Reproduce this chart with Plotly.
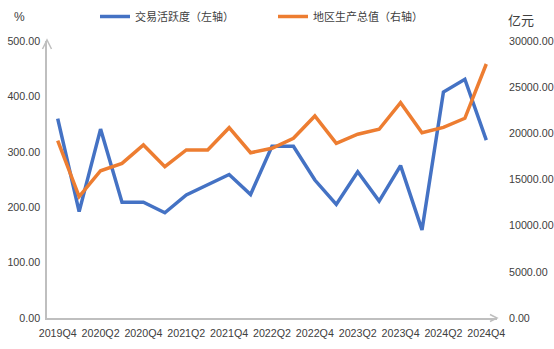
import plotly.graph_objects as go

quarters = ["2019Q4", "2020Q1", "2020Q2", "2020Q3", "2020Q4", "2021Q1", "2021Q2", "2021Q3",
            "2021Q4", "2022Q1", "2022Q2", "2022Q3", "2022Q4", "2023Q1", "2023Q2", "2023Q3",
            "2023Q4", "2024Q1", "2024Q2", "2024Q3", "2024Q4"]
activity = [360, 192, 341, 209, 209, 190, 222, 240, 259, 223, 310, 310, 249, 205, 264, 211,
            275, 159, 408, 431, 321]
gdp = [19200, 13140, 15950, 16750, 18740, 16390, 18200, 18200, 20610, 17900, 18380, 19460,
       21880, 18920, 19900, 20440, 23320, 20070, 20650, 21630, 27510]
tick_labels = quarters[::2]

FONT = "Liberation Sans, Arial, Noto Sans CJK SC, sans-serif"
AX = "#BFBFBF"
FS = 10.7

fig = go.Figure()
fig.add_trace(go.Scatter(x=quarters, y=activity, name="交易活跃度（左轴）", mode="lines",
                         line=dict(color="#4472C4", width=3.5), yaxis="y"))
fig.add_trace(go.Scatter(x=quarters, y=gdp, name="地区生产总值（右轴）", mode="lines",
                         line=dict(color="#ED7D31", width=3.5), yaxis="y2"))

W, H = 450, 277
fig.update_layout(
    width=554, height=349,
    margin=dict(l=47, r=57, t=41, b=31, autoexpand=False),
    paper_bgcolor="white", plot_bgcolor="white",
    font=dict(family=FONT, size=FS, color="#404040"),
    showlegend=True,
    legend=dict(orientation="h", x=(95 - 47) / W, xanchor="left", y=1 + 39 / H, yanchor="top",
                entrywidth=133, entrywidthmode="pixels", itemwidth=30,
                font=dict(size=11, color="#404040"), bgcolor="rgba(0,0,0,0)"),
    xaxis=dict(type="category", categoryorder="array", categoryarray=quarters,
               range=[-0.5, 20.5], tickmode="array", tickvals=tick_labels, ticktext=tick_labels,
               showgrid=False, showline=True, linecolor=AX, linewidth=1.5, ticks="",
               ticklabelstandoff=4, automargin=False,
               tickfont=dict(size=FS, color="#404040"), tickangle=0, zeroline=False),
    yaxis=dict(range=[0, 500], dtick=100, tickformat=".2f", showgrid=False, showline=True,
               linecolor=AX, linewidth=1.5, ticks="", ticklabelstandoff=3, zeroline=False,
               automargin=False, tickfont=dict(size=FS, color="#404040")),
    yaxis2=dict(range=[0, 30000], dtick=5000, tickformat=".2f", overlaying="y", side="right",
                showgrid=False, showline=False, ticks="", ticklabelstandoff=11, zeroline=False,
                automargin=False, tickfont=dict(size=FS, color="#404040")),
    annotations=[
        dict(text="%", xref="paper", yref="paper", x=(19 - 47) / W, y=1 + (41 - 17) / H,
             xanchor="center", yanchor="middle", showarrow=False, font=dict(size=12, color="#404040")),
        dict(text="亿元", xref="paper", yref="paper", x=(521 - 47) / W, y=1 + (41 - 20) / H,
             xanchor="center", yanchor="middle", showarrow=False, font=dict(size=13, color="#404040")),
    ],
    shapes=[
        dict(type="path", xref="paper", yref="paper",
             path=f"M {-4.5 / W} {1 - 8 / H} L 0 {1 + 1 / H} L {4.5 / W} {1 - 8 / H}",
             line=dict(color=AX, width=1.5)),
        dict(type="path", xref="paper", yref="paper",
             path=f"M {1 - 7 / W} {3.5 / H} L 1 0 L {1 - 7 / W} {-3.5 / H}",
             line=dict(color=AX, width=1.5)),
    ],
)

fig.write_html("out.html")
